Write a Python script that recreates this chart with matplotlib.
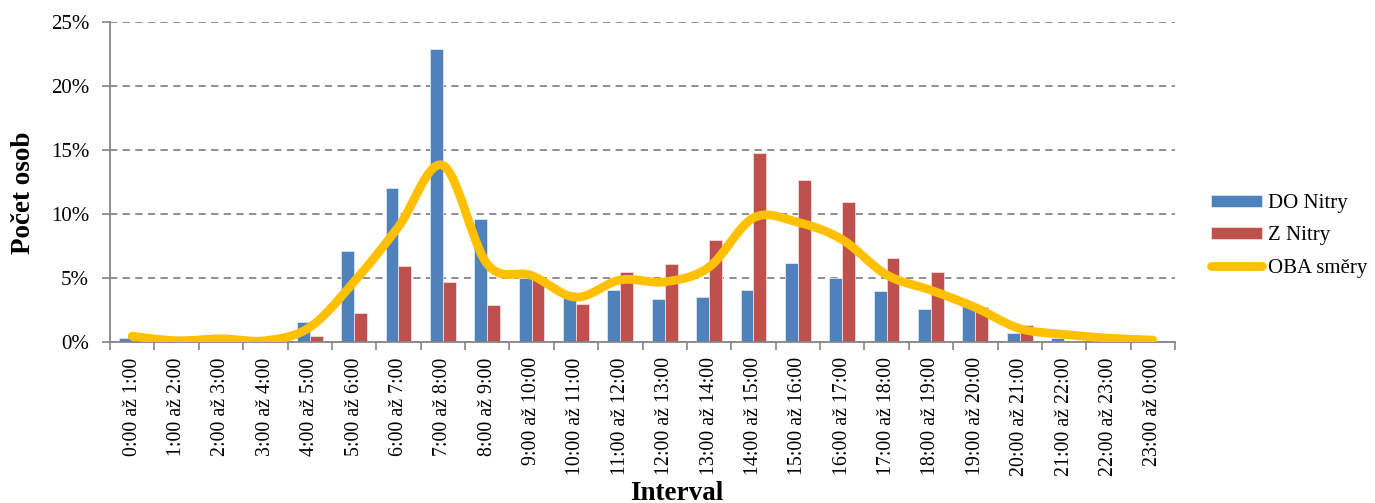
import numpy as np
import matplotlib
matplotlib.use("Agg")
import matplotlib.pyplot as plt
from matplotlib.ticker import FuncFormatter, FixedLocator

plt.rcParams['font.family'] = ['Liberation Serif', 'DejaVu Serif']

intervals = [f"{h}:00 až {(h + 1) % 24}:00" for h in range(24)]

do_nitry = [0.3, 0.05, 0.0, 0.0, 1.6, 7.1, 12.0, 22.9, 9.6, 5.0, 3.9, 4.05,
            3.35, 3.5, 4.1, 6.2, 5.0, 4.0, 2.6, 2.8, 0.7, 0.3, 0.0, 0.0]
z_nitry = [0.0, 0.0, 0.0, 0.0, 0.5, 2.3, 5.9, 4.7, 2.9, 5.1, 3.0, 5.45,
           6.1, 8.0, 14.8, 12.65, 10.95, 6.6, 5.5, 2.7, 1.3, 0.1, 0.0, 0.0]
oba_smery = [0.45, 0.1, 0.25, 0.1, 1.15, 4.7, 9.0, 13.8, 6.1, 5.2, 3.5, 4.85,
             4.7, 5.85, 9.7, 9.35, 8.0, 5.25, 4.05, 2.7, 1.05, 0.6, 0.3, 0.15]

BLUE = "#4F81BD"
RED = "#C0504D"
GOLD = "#FFC000"
GRID = "#868686"


def smooth_curve(x, y, n=30):
    """Catmull-Rom style smoothing through every point."""
    x = np.asarray(x, float)
    y = np.asarray(y, float)
    px = np.concatenate([[x[0]], x, [x[-1]]])
    py = np.concatenate([[y[0]], y, [y[-1]]])
    xs, ys = [], []
    for i in range(1, len(px) - 2):
        p0, p1, p2, p3 = (np.array([px[j], py[j]]) for j in (i - 1, i, i + 1, i + 2))
        c1 = p1 + (p2 - p0) / 6.0
        c2 = p2 - (p3 - p1) / 6.0
        t = np.linspace(0, 1, n, endpoint=(i == len(px) - 3))[:, None]
        pts = ((1 - t) ** 3) * p1 + 3 * ((1 - t) ** 2) * t * c1 + 3 * (1 - t) * t ** 2 * c2 + t ** 3 * p2
        xs.append(pts[:, 0])
        ys.append(pts[:, 1])
    return np.concatenate(xs), np.concatenate(ys)


fig = plt.figure(figsize=(13.75, 5.03), dpi=100)
ax = fig.add_axes([110 / 1375, 1 - 342 / 503, 1065 / 1375, 320 / 503])

x = np.arange(len(intervals))
w = 0.29
b1 = ax.bar(x - w / 2, do_nitry, width=w, color=BLUE, edgecolor="#DCE6F2", linewidth=0.6,
            label="DO Nitry", zorder=2)
b2 = ax.bar(x + w / 2, z_nitry, width=w, color=RED, edgecolor="#F2DCDB", linewidth=0.6,
            label="Z Nitry", zorder=2)
sx, sy = smooth_curve(x, oba_smery)
ln, = ax.plot(sx, sy, color=GOLD, linewidth=6.3, solid_capstyle="round",
              label="OBA směry", zorder=3)

ax.set_xlim(-0.5, len(intervals) - 0.5)
ax.set_ylim(0, 25)
ax.set_yticks(np.arange(0, 26, 5))
ax.yaxis.set_major_formatter(FuncFormatter(lambda v, p: f"{v:.0f}%"))
ax.yaxis.grid(True, linestyle=(0, (4, 3)), color=GRID, linewidth=1.3, zorder=0)
ax.set_axisbelow(True)

ax.set_xticks(x)
ax.set_xticklabels(intervals, rotation=90, fontsize=14.3)
ax.xaxis.set_minor_locator(FixedLocator(np.arange(-0.5, len(intervals), 1.0)))
ax.tick_params(axis="x", which="major", length=0, pad=11)
ax.tick_params(axis="x", which="minor", length=6, width=1.2, color=GRID, direction="out")
ax.tick_params(axis="y", length=6, width=1.2, color=GRID, labelsize=15, pad=9)

for side in ("top", "right"):
    ax.spines[side].set_visible(False)
for side in ("left", "bottom"):
    ax.spines[side].set_color(GRID)
    ax.spines[side].set_linewidth(1.3)

fig.text(24 / 1375, 1 - 193 / 503, "Počet osob", rotation=90, ha="center", va="center",
         fontsize=19.5, fontweight="bold")
fig.text(677 / 1375, 1 - 493 / 503, "Interval", ha="center", va="center",
         fontsize=19.5, fontweight="bold")

fig.legend([b1, b2, ln], ["DO Nitry", "Z Nitry", "OBA směry"], loc="center left",
           bbox_to_anchor=(1211 / 1375, 1 - 236 / 503),
           frameon=False, fontsize=15, handlelength=2.45, handleheight=0.5,
           labelspacing=0.64, handletextpad=0.3, borderaxespad=0, borderpad=0)

fig.savefig("out.png", dpi=100)
